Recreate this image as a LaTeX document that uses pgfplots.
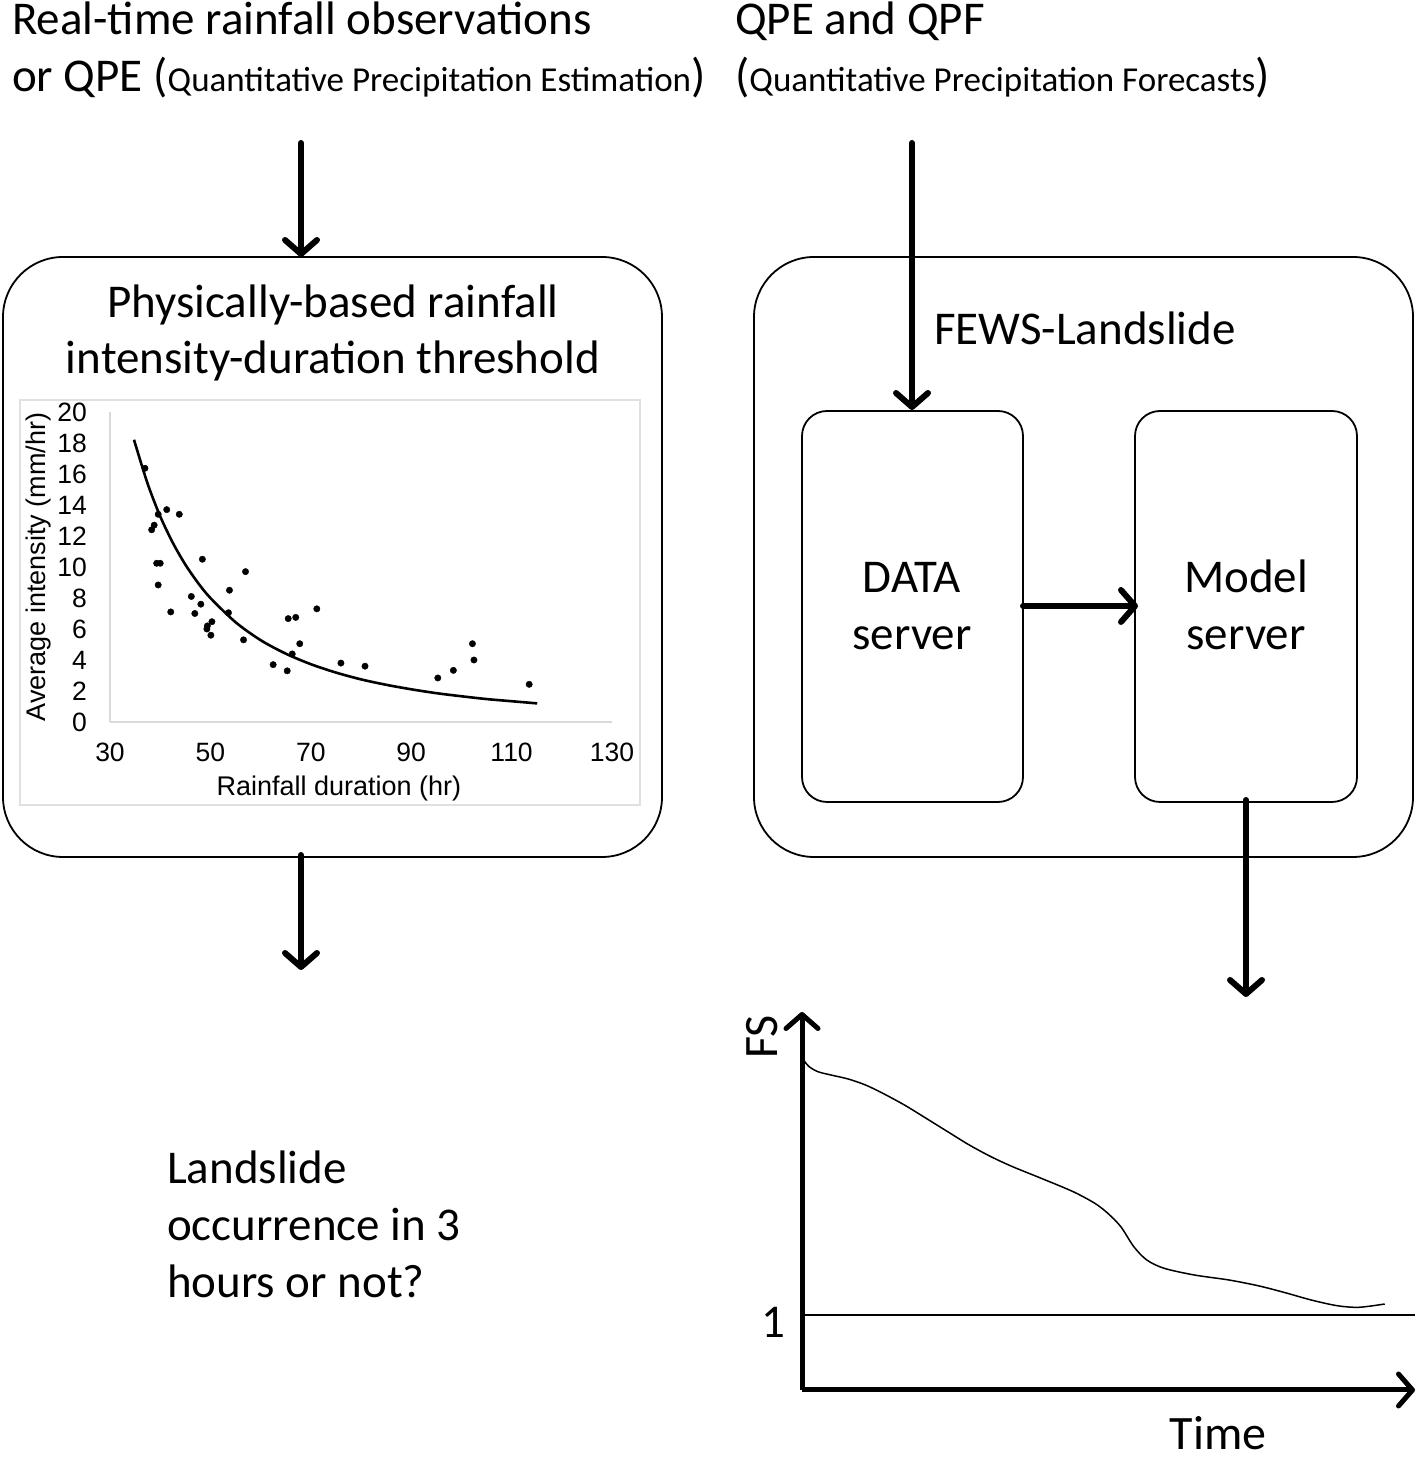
\documentclass[border=0pt]{standalone}
\usepackage{fontspec}
\setmainfont{Carlito}
\newfontfamily\arial{Liberation Sans}
\usepackage{pgfplots}
\pgfplotsset{compat=1.18}
\usetikzlibrary{arrows.meta}
\pgfplotstableread{
x y
36.97 16.37
39.6 13.4
41.3 13.7
43.8 13.4
38.8 12.7
38.3 12.4
39.3 10.24
40.0 10.24
39.6 8.84
48.4 10.5
57.0 9.7
53.8 8.5
46.2 8.1
48.1 7.6
42.1 7.1
46.9 7.0
53.6 7.05
50.3 6.47
49.4 6.2
49.3 6.0
50.1 5.6
56.6 5.3
65.5 6.67
67.0 6.75
71.2 7.3
67.8 5.05
66.3 4.39
62.5 3.7
65.3 3.3
76.0 3.8
80.8 3.6
95.3 2.84
98.4 3.33
102.2 5.05
102.5 4.0
113.5 2.43
}\scatterdata
\pgfplotstableread{
x y
34.85 18.15
35 17.97
37.5 15.37
40 13.27
42.5 11.57
45 10.16
47.5 8.99
50 8.00
55 6.44
60 5.28
65 4.41
70 3.73
75 3.19
80 2.75
85 2.40
90 2.11
95 1.86
100 1.66
105 1.48
110 1.34
115.1 1.20
}\fitdata
\pgfplotstableread{
x y
2.0 329.3
7.2 323.3
15.9 318.3
28.9 315
46.2 311
63.5 305
80.8 296.7
102.4 285
124.1 271.7
145.7 258.3
167.3 245
189 233.3
210.6 223.3
240.9 211
271.2 198.3
292.8 186.7
305.8 176.7
318.8 163.3
331.8 143.3
344.8 130
362.1 121.7
392.3 115
427 110
457.3 104
483.2 97.3
509.2 90
535.1 84.3
556.8 82.7
582.7 86
}\fsdata
\begin{document}
\begin{tikzpicture}[x=1pt,y=1pt,
  big/.style={font=\fontsize{47}{57}\selectfont, inner sep=0pt},
  arr/.style={line width=6pt, line cap=round, -{Straight Barb[length=14pt,width=32pt,round]}}]
\useasboundingbox (0,0) rectangle (1418,1461);

% top texts
\node[big, anchor=base west] at (12,1426) {Real-time rainfall observations};
\node[big, anchor=base west] at (12,1369) {or QPE ({\fontsize{35}{40}\selectfont Quantitative Precipitation Estimation})};
\node[big, anchor=base west] at (735,1426) {QPE and QPF};
\node[big, anchor=base west] at (735,1369) {({\fontsize{35}{40}\selectfont Quantitative Precipitation Forecasts})};

% boxes
\draw[line width=1.8pt, rounded corners=60pt] (3,604) rectangle (662,1204);
\draw[line width=1.8pt, rounded corners=60pt] (754,604) rectangle (1413,1204);
\draw[line width=1.8pt, rounded corners=25pt] (802,659) rectangle (1023,1050);
\draw[line width=1.8pt, rounded corners=25pt] (1135,659) rectangle (1357,1050);

% box texts
\node[big, anchor=base] at (333,1143) {Physically-based rainfall};
\node[big, anchor=base] at (333,1087) {intensity-duration threshold};
\node[big, anchor=base west] at (934,1116) {FEWS-Landslide};
\node[big, anchor=base] at (912,868) {DATA};
\node[big, anchor=base] at (912,811) {server};
\node[big, anchor=base] at (1246,868) {Model};
\node[big, anchor=base] at (1246,811) {server};
\node[big, anchor=base west] at (167,277) {Landslide};
\node[big, anchor=base west] at (167,220) {occurrence in 3};
\node[big, anchor=base west] at (167,163) {hours or not?};

% arrows
\draw[arr] (301,1318) -- (301,1204);
\draw[arr] (301,606) -- (301,491);
\draw[arr] (912,1318) -- (912,1051);
\draw[arr] (1023,855) -- (1138,855);
\draw[arr] (1246,661) -- (1246,464);

% scatter chart frame
\draw[black!12, line width=1.5pt] (20,1061) rectangle (640,656);

\begin{axis}[at={(110pt,739pt)}, anchor=south west, scale only axis,
  width=502pt, height=310pt, xmin=30, xmax=130, ymin=0, ymax=20,
  xtick={30,50,...,130}, ytick={0,2,...,20},
  axis lines=left, axis line style={draw=black!15, line width=1.5pt, -},
  major tick length=0pt,
  tick label style={font=\arial\fontsize{26.5}{30}\selectfont},
  /pgf/number format/assume math mode=true,
  xticklabel style={inner sep=0pt, yshift=-21pt},
  yticklabel style={inner sep=0pt, xshift=-23pt},
  label style={font=\arial\fontsize{27}{31}\selectfont},
  xlabel={Rainfall duration (hr)}, ylabel={Average intensity (mm/hr)},
  xlabel style={at={(axis description cs:0.456,-0.215)}, anchor=center},
  ylabel style={at={(axis description cs:-0.143,0.5)}, anchor=center},
  clip=false]
\addplot[only marks, mark=*, mark size=3.2pt, black] table {\scatterdata};
\addplot[black, line width=2.6pt, smooth] table {\fitdata};
\end{axis}

\begin{axis}[at={(802pt,71pt)}, anchor=south west, scale only axis,
  width=613pt, height=378pt, xmin=0, xmax=613, ymin=0, ymax=378,
  axis lines=left,
  axis line style={line width=5pt, -{Straight Barb[length=14pt,width=32pt,round]}},
  xtick=\empty, ytick={75}, yticklabels={1}, major tick length=0pt,
  /pgf/number format/assume math mode=true,
  yticklabel style={font=\fontsize{47}{57}\selectfont, inner sep=0pt, xshift=-16pt, yshift=-7pt},
  xlabel={Time}, ylabel={FS},
  label style={font=\fontsize{48}{57}\selectfont, inner sep=0pt},
  xlabel style={at={(axis cs:416,-59)}, anchor=base},
  ylabel style={at={(axis cs:-40,353)}, anchor=center},
  clip=false]
\addplot[black, line width=1.5pt] coordinates {(0,75) (613,75)};
\addplot[black, line width=1.5pt, smooth] table {\fsdata};
\end{axis}
\end{tikzpicture}
\end{document}
